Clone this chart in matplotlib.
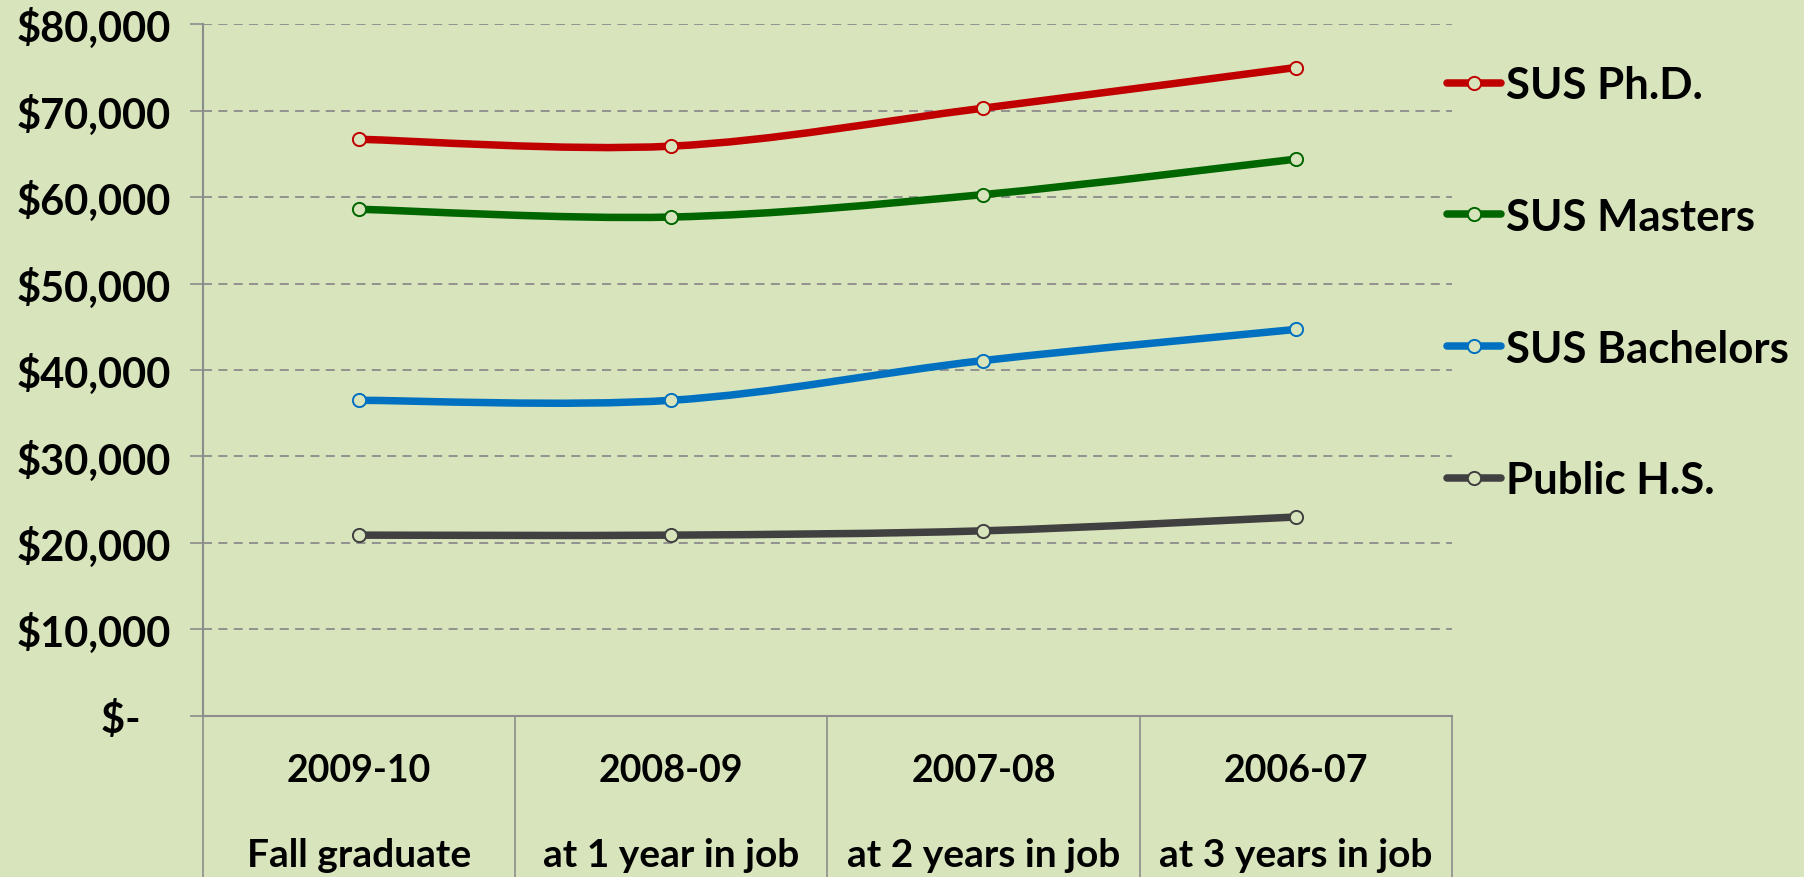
import matplotlib
matplotlib.use("Agg")
import matplotlib.pyplot as plt
from matplotlib.path import Path
from matplotlib.patches import PathPatch
from matplotlib.lines import Line2D
from matplotlib.ticker import FixedLocator

plt.rcParams['font.family'] = ['Lato', 'DejaVu Sans']
plt.rcParams['font.weight'] = 'bold'

# data
years = ['2009-10', '2008-09', '2007-08', '2006-07']
stages = ['Fall graduate', 'at 1 year in job', 'at 2 years in job', 'at 3 years in job']
series_names = ['SUS Ph.D.', 'SUS Masters', 'SUS Bachelors', 'Public H.S.']
phd = [66700, 65900, 70300, 75000]
masters = [58600, 57700, 60300, 64400]
bachelors = [36500, 36500, 41100, 44700]
public_hs = [20900, 20900, 21400, 23000]
y_ticks = [0, 10000, 20000, 30000, 40000, 50000, 60000, 70000, 80000]

colors = ['#C00000', '#006600', '#0070C0', '#404040']
bg = '#D8E4BC'
grid_col = '#8C8C8C'


def smooth_path(xs, ys):
    # Excel style smoothed line: cubic bezier through the points (Catmull-Rom control points)
    pts = list(zip(xs, ys))
    verts = [pts[0]]
    codes = [Path.MOVETO]
    n = len(pts)
    for i in range(n - 1):
        p0 = pts[max(i - 1, 0)]
        p1 = pts[i]
        p2 = pts[i + 1]
        p3 = pts[min(i + 2, n - 1)]
        c1 = (p1[0] + (p2[0] - p0[0]) / 6, p1[1] + (p2[1] - p0[1]) / 6)
        c2 = (p2[0] - (p3[0] - p1[0]) / 6, p2[1] - (p3[1] - p1[1]) / 6)
        verts += [c1, c2, p2]
        codes += [Path.CURVE4] * 3
    return Path(verts, codes)


fig = plt.figure(figsize=(18.04, 8.78), dpi=100, facecolor=bg)
ax = fig.add_axes([0.1123, 0.1836, 0.6926, 0.7876])
ax.set_facecolor(bg)

x = list(range(len(years)))
handles = []
for name, vals, col in zip(series_names, [phd, masters, bachelors, public_hs], colors):
    patch = PathPatch(smooth_path(x, vals), facecolor='none', edgecolor=col, lw=5.4,
                      capstyle='round', joinstyle='round', zorder=3)
    ax.add_patch(patch)
    ax.plot(x, vals, 'o', ms=9.5, mfc=bg, mec=col, mew=1.4, zorder=4)
    handles.append(Line2D([], [], color=col, lw=5.4, solid_capstyle='round', marker='o',
                          ms=9.5, mfc=bg, mec=col, mew=1.4, label=name))

ax.set_xlim(-0.5, len(years) - 0.5)
ax.set_ylim(0, 80000)

# y axis
ax.set_yticks(y_ticks)
ax.set_yticklabels(['$-   '] + ['${:,}'.format(v) for v in y_ticks[1:]])
ax.tick_params(axis='y', length=9.5, width=1.2, color=grid_col, pad=13, labelsize=30)
ax.yaxis.grid(True, color=grid_col, lw=1.3, ls=(0, (5, 3.5)))
ax.set_axisbelow(True)

# x axis: category labels in two rows, long minor ticks as dividers
ax.set_xticks(x)
ax.set_xticklabels([])
ax.tick_params(axis='x', which='major', length=0)
ax.xaxis.set_minor_locator(FixedLocator([i - 0.5 for i in range(len(years) + 1)]))
ax.tick_params(axis='x', which='minor', length=140, width=1.2, color=grid_col, direction='out')
for i in x:
    ax.text(i, -0.078, years[i], transform=ax.get_xaxis_transform(), ha='center', va='center',
            fontsize=27, fontweight='bold')
    ax.text(i, -0.2, stages[i], transform=ax.get_xaxis_transform(), ha='center', va='center',
            fontsize=28, fontweight='bold')

for side in ['top', 'right']:
    ax.spines[side].set_visible(False)
for side in ['left', 'bottom']:
    ax.spines[side].set_color(grid_col)
    ax.spines[side].set_linewidth(1.5)

fig.legend(handles=handles, loc='upper left', bbox_to_anchor=(0.802, 0.925), frameon=False,
           fontsize=31.5, handlelength=1.25, handletextpad=0.1, labelspacing=2.1,
           borderpad=0, borderaxespad=0)

fig.savefig('out.png', dpi=100, facecolor=bg)
